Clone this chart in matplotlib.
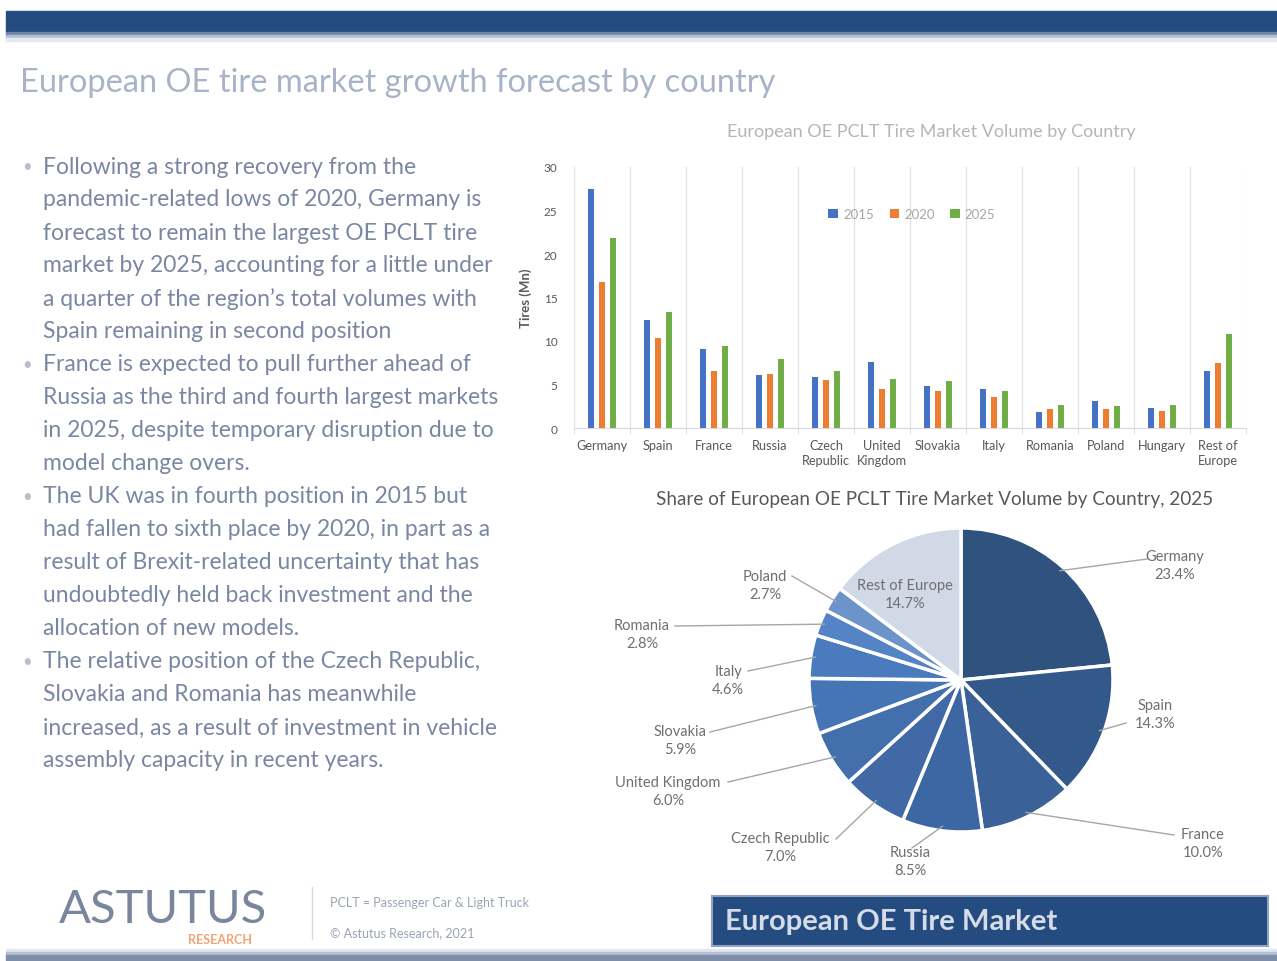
import matplotlib
matplotlib.use('Agg')
import matplotlib.pyplot as plt
from matplotlib.patches import Rectangle
import numpy as np

plt.rcParams['font.family'] = ['Lato', 'DejaVu Sans']

W, H = 1277, 962

# bar chart data (million tires)
countries = ["Germany", "Spain", "France", "Russia", "Czech\nRepublic", "United\nKingdom",
             "Slovakia", "Italy", "Romania", "Poland", "Hungary", "Rest of\nEurope"]
years = ["2015", "2020", "2025"]
vol_2015 = [27.5, 12.4, 9.1, 6.1, 5.9, 7.6, 4.8, 4.45, 1.8, 3.1, 2.3, 6.6]
vol_2020 = [16.8, 10.4, 6.5, 6.2, 5.5, 4.5, 4.25, 3.55, 2.15, 2.15, 2.0, 7.5]
vol_2025 = [21.8, 13.3, 9.4, 7.9, 6.5, 5.6, 5.4, 4.25, 2.6, 2.5, 2.6, 10.8]

# pie data (share of 2025 volume, %)
pie_labels = ["Germany", "Spain", "France", "Russia", "Czech Republic", "United Kingdom",
              "Slovakia", "Italy", "Romania", "Poland", "Rest of Europe"]
pie_share = [23.4, 14.3, 10.0, 8.5, 7.0, 6.0, 5.9, 4.6, 2.8, 2.7, 14.7]

bullets = [
    ["Following a strong recovery from the",
     "pandemic-related lows of 2020, Germany is",
     "forecast to remain the largest OE PCLT tire",
     "market by 2025, accounting for a little under",
     "a quarter of the region\u2019s total volumes with",
     "Spain remaining in second position"],
    ["France is expected to pull further ahead of",
     "Russia as the third and fourth largest markets",
     "in 2025, despite temporary disruption due to",
     "model change overs."],
    ["The UK was in fourth position in 2015 but",
     "had fallen to sixth place by 2020, in part as a",
     "result of Brexit-related uncertainty that has",
     "undoubtedly held back investment and the",
     "allocation of new models."],
    ["The relative position of the Czech Republic,",
     "Slovakia and Romania has meanwhile",
     "increased, as a result of investment in vehicle",
     "assembly capacity in recent years."],
]

navy = '#244C80'
grey = '#595959'
bar_colors = ['#4472C4', '#ED7D31', '#70AD47']
pie_colors = ['#30527F', '#33598A', '#3A6299', '#3D67A2', '#4069A6', '#436FAD',
              '#4675B6', '#4A7BBE', '#5584C6', '#6C93CA', '#D1D9E7']

fig = plt.figure(figsize=(W / 100, H / 100), dpi=100)
fig.patch.set_facecolor('white')

# background axes in pixel coordinates (y down)
bg = fig.add_axes([0, 0, 1, 1])
bg.set_xlim(0, W)
bg.set_ylim(H, 0)
bg.axis('off')

# top band with shadow
bg.add_patch(Rectangle((6, 12), W - 6, 21, color=navy))
for y0, c in [(33, '#6F84A6'), (36, '#B3BFD2'), (39, '#E3E8F0')]:
    bg.add_patch(Rectangle((6, y0), W - 6, 3, color=c))

bg.text(20, 83, "European OE tire market growth forecast by country", fontsize=23.5,
        color='#A9B3C8', va='center', ha='left')

# bullet text
row = 0
for block in bullets:
    for j, line in enumerate(block):
        y = 167 + 33 * row
        if j == 0:
            bg.text(22, y, "\u2022", fontsize=12, color='#B8BFCC', va='center')
        bg.text(43, y, line, fontsize=16.5, color='#7A86A2', va='center', ha='left')
        row += 1

# footer
bg.text(163, 910, "ASTUTUS", fontsize=34, color='#7A869E', ha='center', va='center')
bg.text(220, 940, "RESEARCH", fontsize=9, color='#F2A477', ha='center', va='center',
        fontweight='bold')
bg.plot([312, 312], [888, 940], color='#D9D9D9', lw=1)
bg.text(330, 903, "PCLT = Passenger Car & Light Truck", fontsize=9, color='#9AA3B3',
        va='center')
bg.text(330, 933, "\u00a9 Astutus Research, 2021", fontsize=9, color='#9AA3B3', va='center')
bg.add_patch(Rectangle((712, 897), 556, 50, facecolor=navy, edgecolor='#8FA2C0', lw=1.5))
bg.text(725, 922, "European OE Tire Market", fontsize=21, fontweight='bold',
        color='#D5DCE8', va='center', ha='left')
for y0, c in [(950, '#E3E8F0'), (953, '#B3BFD2'), (956, '#7E8DA8')]:
    bg.add_patch(Rectangle((6, y0), W - 6, 3 if y0 < 956 else 6, color=c))

# bar chart
bg.text(931, 132, "European OE PCLT Tire Market Volume by Country", fontsize=13,
        color='#B5B5B5', ha='center', va='center')
ax = fig.add_axes([574 / W, (H - 429) / H, (1246 - 574) / W, (429 - 168) / H])
x = np.arange(len(countries))
bw = 0.11
for k, (vals, lab) in enumerate(zip([vol_2015, vol_2020, vol_2025], years)):
    ax.bar(x + (k - 1) * 0.2, vals, bw, color=bar_colors[k], label=lab, zorder=3)
ax.set_xlim(-0.5, len(countries) - 0.5)
ax.set_ylim(0, 30)
ax.set_yticks(np.arange(0, 31, 5))
ax.set_xticks(x)
ax.set_xticklabels(countries, fontsize=9.2, color=grey, linespacing=1.3)
ax.set_xticks(np.arange(-0.5, len(countries), 1), minor=True)
ax.tick_params(axis='both', which='major', length=0, labelcolor=grey)
ax.tick_params(axis='y', pad=12, labelsize=8.5)
ax.tick_params(axis='x', which='major', pad=8, labelsize=9.2)
ax.tick_params(axis='x', which='minor', length=4, color='#D9D9D9')
ax.grid(which='minor', axis='x', color='#E3E3E3', lw=0.9, zorder=0)
for s in ['top', 'right', 'left']:
    ax.spines[s].set_visible(False)
ax.spines['bottom'].set_color('#D9D9D9')
ax.set_ylabel("Tires (Mn)", fontsize=9.5, fontweight='bold', color=grey, labelpad=8)
ax.legend(loc='center', bbox_to_anchor=(0.503, 0.82), ncol=3, frameon=False,
          fontsize=9.5, labelcolor='#A6A6A6', handlelength=0.7, handleheight=0.7,
          handletextpad=0.4, columnspacing=1.2)

# pie chart in pixel coordinates (y up)
bg.text(935, 500, "Share of European OE PCLT Tire Market Volume by Country, 2025",
        fontsize=13.6, color=grey, ha='center', va='center')
pax = fig.add_axes([0, 0, 1, 1])
cx, cy, r = 961, H - 681, 152
wedges, _ = pax.pie(pie_share, colors=pie_colors, startangle=90, counterclock=False,
                    center=(cx, cy), radius=r,
                    wedgeprops=dict(edgecolor='white', linewidth=2.5))
pax.set_xlim(0, W)
pax.set_ylim(0, H)
pax.set_aspect('auto')
pax.axis('off')
pax.patch.set_visible(False)

# label layout: text centre and leader line end, image pixels
label_pos = [(1175, 566), (1155, 715), (1203, 844), (910, 862), (780, 848), (668, 792),
             (680, 741), (728, 681), (642, 635), (765, 586), (905, 595)]
line_end = [(1147, 560), (1126, 724), (1174, 836), (912, 849), (836, 840), (728, 783),
            (710, 733), (748, 672), (675, 627), (792, 577), None]

for w, lab, val, (tx, ty), le in zip(wedges, pie_labels, pie_share, label_pos, line_end):
    txt = f"{lab}\n{val:.1f}%"
    pax.text(tx, H - ty, txt, fontsize=10.5, color='#6F6F6F', ha='center', va='center',
             linespacing=1.4)
    if le is not None:
        a = np.deg2rad((w.theta1 + w.theta2) / 2)
        ex, ey = cx + r * 0.97 * np.cos(a), cy + r * 0.97 * np.sin(a)
        pax.plot([ex, le[0]], [ey, H - le[1]], color='#A6A6A6', lw=1)

fig.savefig('out.png', dpi=100)
